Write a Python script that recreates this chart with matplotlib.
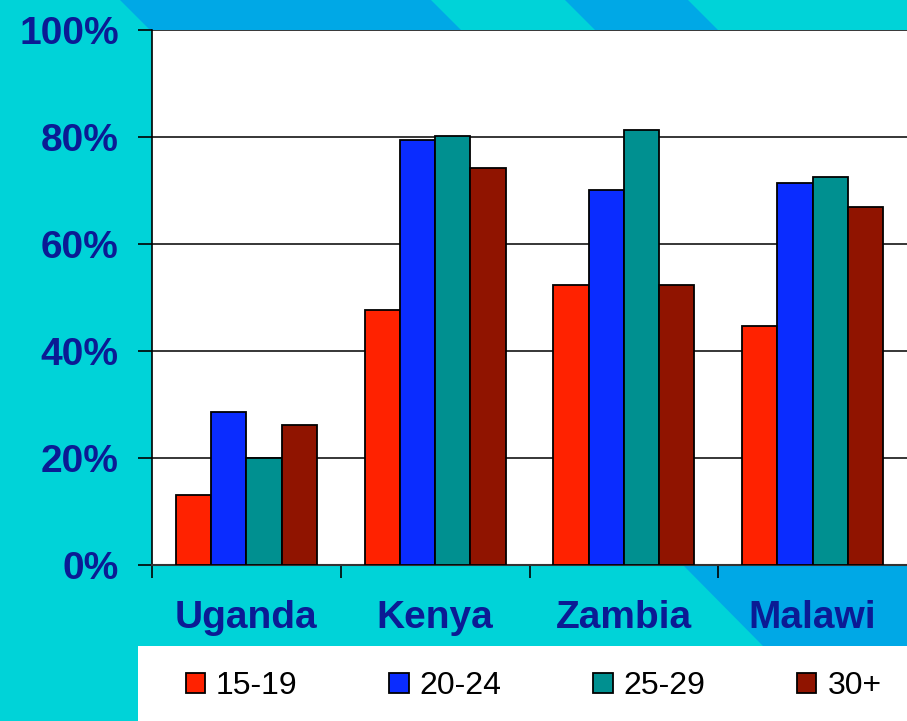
import matplotlib
matplotlib.use("Agg")
import matplotlib.pyplot as plt
import numpy as np
from matplotlib.patches import Polygon, Rectangle

categories = ["Uganda", "Kenya", "Zambia", "Malawi"]
series_names = ["15-19", "20-24", "25-29", "30+"]
v_15_19 = [13.1, 47.7, 52.3, 44.7]
v_20_24 = [28.6, 79.4, 70.1, 71.4]
v_25_29 = [20.0, 80.2, 81.3, 72.5]
v_30p = [26.2, 74.2, 52.3, 66.9]
series = [v_15_19, v_20_24, v_25_29, v_30p]
colors = ["#FF2200", "#0A2CFF", "#009090", "#901400"]
yticks = [0, 20, 40, 60, 80, 100]
ytick_labels = ["0%", "20%", "40%", "60%", "80%", "100%"]

W, H = 907, 721
CYAN = "#00D3D8"
BLUE = "#00A8E6"
NAVY = "#0B1B94"

fig = plt.figure(figsize=(W / 100, H / 100), dpi=100)
fig.patch.set_facecolor(CYAN)

def px(x, y):
    return (x / W, 1 - y / H)

# decorative background stripes
for (x0, x1) in [(120, 431), (565, 688)]:
    pts = [px(x0, 0), px(x1, 0), px(x1 + 30, 30), px(x0 + 30, 30)]
    fig.patches.append(Polygon(pts, closed=True, transform=fig.transFigure,
                               facecolor=BLUE, edgecolor="none", zorder=-5))
pts = [px(683, 565), px(907, 565), px(907, 646), px(763, 646)]
fig.patches.append(Polygon(pts, closed=True, transform=fig.transFigure,
                           facecolor=BLUE, edgecolor="none", zorder=-5))
# legend white box
fig.patches.append(Rectangle(px(138, 721), (907 - 138) / W, (721 - 646) / H,
                             transform=fig.transFigure, facecolor="white",
                             edgecolor="none", zorder=-5))

ax = fig.add_axes([152 / W, (721 - 565) / H, (907 - 152) / W, 535 / H])
ax.set_facecolor("white")

x = np.arange(len(categories))
w = 0.187
for j, (vals, c, name) in enumerate(zip(series, colors, series_names)):
    ax.bar(x + (j - 1.5) * w, vals, width=w, color=c, edgecolor="black",
           linewidth=1.3, label=name, zorder=3)

ax.set_xlim(-0.5, 3.5)
ax.set_ylim(0, 100)

for yv in yticks[1:]:
    ax.axhline(yv, color="black", linewidth=1.1, zorder=1)

for s in ["top", "right"]:
    ax.spines[s].set_visible(False)
ax.spines["left"].set_color("black")
ax.spines["left"].set_linewidth(1.2)
ax.spines["bottom"].set_color("#333333")
ax.spines["bottom"].set_linewidth(1.5)

ax.set_yticks(yticks)
ax.set_yticklabels(ytick_labels)
ax.tick_params(axis="y", direction="out", length=10, width=1.2, pad=14,
               labelsize=28, colors="black")
for t in ax.get_yticklabels():
    t.set_fontfamily("Liberation Sans")
    t.set_fontweight("bold")
    t.set_color(NAVY)

ax.set_xticks([-0.5, 0.5, 1.5, 2.5])
ax.set_xticklabels([])
ax.tick_params(axis="x", which="major", direction="out", length=9, width=1.2,
               colors="black")
ax.set_xticks(x, minor=True)
ax.set_xticklabels(categories, minor=True)
ax.tick_params(axis="x", which="minor", length=0, pad=25, labelsize=28)
for t in ax.get_xticklabels(minor=True):
    t.set_fontfamily("Liberation Sans")
    t.set_fontweight("bold")
    t.set_color(NAVY)

handles, labels = ax.get_legend_handles_labels()
leg = fig.legend(handles, labels, loc="center left",
                 bbox_to_anchor=(157 / W, 1 - 686 / H), ncol=4, frameon=False,
                 prop={"family": "Liberation Sans", "size": 23},
                 handlelength=0.6, handleheight=0.6, handletextpad=0.35,
                 columnspacing=2.87)
for t in leg.get_texts():
    t.set_color("black")

fig.savefig("out.png", dpi=100, facecolor=fig.get_facecolor())
